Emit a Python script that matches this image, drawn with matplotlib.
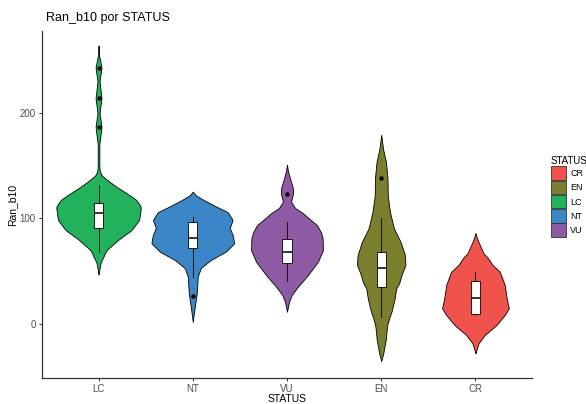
import numpy as np
import matplotlib.pyplot as plt
from matplotlib.patches import Patch

plt.rcParams['font.family'] = ['Liberation Sans', 'DejaVu Sans']

status = ['LC', 'NT', 'VU', 'EN', 'CR']
legend_order = ['CR', 'EN', 'LC', 'NT', 'VU']
colors = {'CR': '#EF534C', 'EN': '#7B7F2D', 'LC': '#22B25B',
          'NT': '#3A86C7', 'VU': '#8E5AA4'}

# violin outlines: value, relative density (half width)
lc_y = [47, 58, 70, 80, 89, 98.6, 111, 117.5, 124, 130, 136.5, 141, 145, 150,
        170, 187, 200, 214, 230, 243, 255, 264]
lc_d = [0, 2, 8, 20, 33, 40.7, 42.5, 38, 28, 18, 8.7, 3, 1.2, 0.8,
        0.8, 3, 1, 3, 1, 3, 0.5, 0]
nt_y = [2.2, 16.4, 29, 44.9, 53, 60.7, 68.5, 76.5, 84.4, 91, 98.6, 106, 112,
        117.5, 122, 125.4]
nt_d = [0, 2, 4, 5, 8, 18, 33, 41.5, 40, 37, 40, 35, 22, 11, 3, 0]
vu_y = [11.7, 21, 27.5, 35.4, 46.4, 59, 70, 81.2, 87, 93.8, 100, 105, 110,
        116, 123, 128.6, 138, 145, 150.7]
vu_d = [0, 2, 4.7, 11, 21, 31, 36, 35.7, 34, 30, 22, 16, 8, 4, 6, 6, 3, 1, 0]
en_y = [-35, -28, -15, -1, 7, 11.7, 24.3, 33.8, 38.6, 46.4, 56, 65.4, 78,
        90.6, 106.4, 122, 138, 153.8, 165, 172, 179]
en_d = [0, 2, 4.5, 6, 8.5, 10.3, 13.5, 15, 18, 20.3, 24.3, 23.7, 19.3,
        12.7, 8.7, 6.5, 6.3, 4.7, 2, 1, 0]
cr_y = [-27.8, -18.3, -10.4, -1, 8.5, 14.9, 18, 26, 37, 43, 49.6, 56, 62.3,
        67, 75, 80, 86]
cr_d = [0, 3, 9.3, 21, 29.3, 33.5, 32.7, 31, 29.3, 27, 24.3, 17, 12.7,
        8, 4.3, 2, 0]

# box plot statistics
q1 = [91, 71.7, 57.5, 34.8, 9.4]
med = [105, 81.2, 68.5, 53.4, 24.8]
q3 = [115, 96.4, 80.2, 68, 40.5]
whislo = [68, 44.2, 41, 6.3, 8.5]
whishi = [132, 101.7, 97, 100, 49.2]
fliers = [[187, 214, 243], [26.8], [122.9], [138], []]

profiles = [(lc_y, lc_d), (nt_y, nt_d), (vu_y, vu_d), (en_y, en_d), (cr_y, cr_d)]
dmax = max(max(d) for _, d in profiles)


def outline(yv, dv):
    yy = np.linspace(min(yv), max(yv), 400)
    dd = np.interp(yy, yv, dv)
    k = np.hanning(9)
    k = k / k.sum()
    dd = np.convolve(np.pad(dd, 4), k, mode='valid')
    return yy, dd


fig = plt.figure(figsize=(5.86, 4.04), dpi=100)
ax = fig.add_axes([42 / 586, 26 / 404, 490 / 586, 347 / 404])

for i, s in enumerate(status):
    yy, dd = outline(*profiles[i])
    w = 0.45 * dd / dmax
    x = i + 1
    ax.fill_betweenx(yy, x - w, x + w, facecolor=colors[s], edgecolor='black',
                     lw=0.6, zorder=1)

stats = [dict(q1=q1[i], med=med[i], q3=q3[i], whislo=whislo[i],
              whishi=whishi[i], fliers=fliers[i]) for i in range(5)]
ax.bxp(stats, positions=range(1, 6), widths=0.1, patch_artist=True,
       showcaps=False, manage_ticks=False,
       boxprops=dict(facecolor='white', edgecolor='black', lw=0.6),
       medianprops=dict(color='black', lw=1.1),
       whiskerprops=dict(color='black', lw=0.6),
       flierprops=dict(marker='o', markerfacecolor='black',
                       markeredgecolor='black', markersize=2.2),
       zorder=2)

ax.set_xlim(0.4, 5.6)
ax.set_ylim(-51.2, 277.7)
ax.set_xticks(range(1, 6))
ax.set_xticklabels(status)
ax.set_yticks([0, 100, 200])
for side in ['top', 'right']:
    ax.spines[side].set_visible(False)
for side in ['left', 'bottom']:
    ax.spines[side].set_color('#333333')
    ax.spines[side].set_linewidth(0.9)
ax.tick_params(axis='both', length=2.5, width=0.7, color='#333333',
               labelsize=7, labelcolor='#4D4D4D', pad=2)
ax.set_xlabel('STATUS', fontsize=7.5, labelpad=-0.5)
ax.set_ylabel('Ran_b10', fontsize=7.5, labelpad=2)

fig.text(46 / 586, 1 - 18 / 404, 'Ran_b10 por STATUS', fontsize=9,
         ha='left', va='center')

handles = [Patch(facecolor=colors[s], edgecolor='#333333', lw=0.6, label=s)
           for s in legend_order]
fig.legend(handles=handles, title='STATUS', loc='upper left',
           bbox_to_anchor=(546 / 586, 1 - 151 / 404), frameon=False,
           fontsize=6.5, title_fontsize=7, handlelength=1.7,
           handleheight=1.9, labelspacing=0.1, handletextpad=0.5,
           borderpad=0, alignment='left')

fig.savefig('out.png', dpi=100)
